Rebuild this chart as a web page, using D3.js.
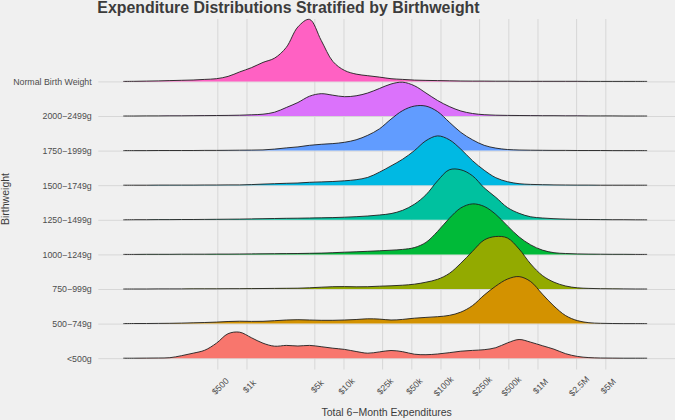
<!DOCTYPE html>
<html>
<head>
<meta charset="utf-8">
<script src="https://cdn.jsdelivr.net/npm/d3@7"></script>
<style>
  html, body { margin: 0; padding: 0; background: #f0f0f0; }
  svg { display: block; }
</style>
</head>
<body>
<svg id="chart" width="675" height="420"></svg>
<script>
// ---------------- DATA ----------------
// Birthweight groups, top row to bottom row
const categories = [
  "Normal Birth Weight", "2000\u22122499g", "1750\u22121999g", "1500\u22121749g",
  "1250\u22121499g", "1000\u22121249g", "750\u2212999g", "500\u2212749g", "<500g"
];
const fillColors = ["#FF61C3", "#DB72FB", "#619CFF", "#00B9E3", "#00C19F", "#00BA38", "#93AA00", "#D39200", "#F8766D"];

// Evaluation grid: log10 of total 6-month expenditure ($)
const logExpenditure = [1.73, 1.85, 1.97, 2.09, 2.21, 2.33, 2.45, 2.57, 2.69, 2.81,
  2.93, 3.05, 3.17, 3.29, 3.41, 3.53, 3.65, 3.77, 3.89, 4.01,
  4.13, 4.25, 4.37, 4.49, 4.61, 4.73, 4.85, 4.97, 5.09, 5.21,
  5.33, 5.45, 5.57, 5.69, 5.81, 5.93, 6.05, 6.17, 6.29, 6.41,
  6.53, 6.65, 6.77, 6.89, 7.01, 7.13];

// Ridge (scaled density) heights; 34.6 = one row
const densNormal = [0, 0.1, 0.3, 0.5, 0.8, 1.1, 1.4, 2, 2.7, 5,
  9.5, 13.7, 19, 23.3, 34, 54.5, 62, 41, 20, 11,
  7.3, 5.7, 4.3, 2.7, 2, 1.3, 1, 0.8, 0.6, 0.4,
  0.3, 0.3, 0.2, 0.2, 0.1, 0.1, 0.1, 0.1, 0.1, 0.1,
  0, 0, 0, 0, 0, 0];
const dens2000 = [0, 0, 0.1, 0.1, 0.2, 0.2, 0.3, 0.4, 0.5, 0.6,
  0.8, 1.2, 1.8, 3.8, 8.5, 13.5, 19.8, 22.3, 20.8, 19.3,
  20.2, 23, 27.5, 32, 33.8, 30.3, 23, 15.5, 9.5, 5,
  2.5, 1.3, 0.8, 0.6, 0.5, 0.4, 0.3, 0.3, 0.2, 0.2,
  0.1, 0.1, 0.1, 0, 0, 0];
const dens1750 = [0, 0, 0, 0.1, 0.1, 0.1, 0.1, 0.2, 0.2, 0.3,
  0.4, 0.5, 0.7, 1.5, 2.7, 3.7, 5.3, 6.3, 7, 8.3,
  10.8, 15.3, 21.7, 31.5, 40, 44.5, 44.5, 39, 28.5, 18.2,
  10.8, 5.3, 2.5, 1.1, 0.6, 0.4, 0.3, 0.2, 0.2, 0.1,
  0.1, 0.1, 0, 0, 0, 0];
const dens1500 = [0, 0, 0, 0.1, 0.1, 0.1, 0.1, 0.2, 0.2, 0.3,
  0.3, 0.6, 1.1, 1.5, 1.9, 2.2, 2.9, 3.3, 3.7, 4.4,
  5.5, 7.8, 13, 19.3, 26, 34.5, 44.5, 49.3, 45.5, 36,
  24.5, 15, 7.5, 3.5, 1.5, 0.8, 0.5, 0.3, 0.2, 0.1,
  0.1, 0, 0, 0, 0, 0];
const dens1250 = [0, 0.1, 0.1, 0.2, 0.2, 0.3, 0.3, 0.4, 0.5, 0.6,
  0.7, 0.9, 1.1, 1.3, 1.5, 1.6, 1.8, 2, 2.2, 2.6,
  3.1, 3.8, 4.8, 6.2, 9.5, 15.5, 25, 39, 50, 50,
  44, 32, 22.5, 12.3, 6.5, 3, 1.8, 1.1, 0.7, 0.4,
  0.3, 0.2, 0.1, 0.1, 0, 0];
const dens1000 = [0, 0, 0.1, 0.1, 0.1, 0.2, 0.2, 0.2, 0.3, 0.3,
  0.4, 0.5, 0.6, 0.7, 0.8, 0.9, 1.1, 1.3, 1.7, 2.2,
  2.6, 3.1, 3.6, 4.2, 5, 6.8, 12, 23, 36, 46.5,
  50.5, 48, 40, 28.5, 17.5, 9.5, 4.3, 1.7, 0.9, 0.5,
  0.3, 0.2, 0.1, 0.1, 0, 0];
const dens750 = [0, 0, 0, 0.1, 0.1, 0.1, 0.2, 0.2, 0.2, 0.3,
  0.3, 0.4, 0.5, 0.6, 0.7, 0.8, 1.2, 1.8, 2.3, 2.4,
  2.2, 2.3, 2.8, 3.2, 3.8, 4.8, 6.8, 9.7, 15.5, 25.8,
  37.7, 49, 52.5, 51, 40, 25, 13.5, 6.8, 3, 1.2,
  0.6, 0.3, 0.2, 0.1, 0, 0];
const dens500 = [0, 0.1, 0.1, 0.2, 0.3, 0.5, 0.8, 1.1, 1.5, 2.1,
  2.4, 2.2, 2.3, 2.9, 3.6, 3.9, 3.6, 3.3, 3.3, 3.6,
  4.1, 4.8, 4.5, 3.6, 4.2, 5.4, 6.2, 6.9, 8.2, 11.5,
  18, 28.5, 37.5, 44.5, 47, 42, 29.5, 17.5, 8, 3,
  0.9, 0.3, 0.1, 0, 0, 0];
const densUnder500 = [0, 0, 0.1, 0.2, 0.5, 2.5, 5, 8, 15, 24.5,
  26, 20.5, 15, 12, 12.8, 12.2, 12.8, 11.5, 10, 8.8,
  6.7, 5, 6.3, 7.7, 6.5, 4, 3.5, 4.2, 5.5, 7,
  7.8, 8.5, 10.5, 15.3, 18.7, 16, 12.5, 9, 4.5, 1.8,
  0.6, 0.2, 0.1, 0, 0, 0];

const seriesDensities = [densNormal, dens2000, dens1750, dens1500, dens1250, dens1000, dens750, dens500, densUnder500];

const tickValues = [500, 1000, 5000, 10000, 25000, 50000, 100000, 250000, 500000, 1000000, 2500000, 5000000];
const tickLabels = ["$500", "$1k", "$5k", "$10k", "$25k", "$50k", "$100k", "$250k", "$500k", "$1M", "$2.5M", "$5M"];

const titleText = "Expenditure Distributions Stratified by Birthweight";
const xTitle = "Total 6\u2212Month Expenditures";
const yTitle = "Birthweight";

// ---------------- DRAW ----------------
const W = 675, H = 420;
const FONT = "'Liberation Sans', Arial, Helvetica, sans-serif";
const svg = d3.select("#chart");
svg.append("rect").attr("width", W).attr("height", H).attr("fill", "#f0f0f0");

const panel = { left: 98.3, right: 675, top: 19, bottom: 369.5 };

const x = d3.scaleLog().domain([100, 1e7]).range([149.5, 634.5]);
const y = d3.scalePoint().domain(categories).range([81.4, 358.2]);
const step = y.step();
const h = d3.scaleLinear().domain([0, 34.6]).range([0, step]);

// vertical grid + x tick labels
const labelOf = new Map(tickValues.map((v, i) => [v, tickLabels[i]]));
const xAxis = d3.axisBottom(x)
  .tickValues(tickValues)
  .tickFormat(d => labelOf.get(d))
  .tickSize(-(panel.bottom - panel.top))
  .tickPadding(0);
const gx = svg.append("g")
  .attr("transform", `translate(0,${panel.bottom})`)
  .call(xAxis);
gx.attr("font-family", FONT).attr("font-size", 8.8);
gx.select(".domain").remove();
gx.selectAll(".tick line").attr("stroke", "#d7d7d7").attr("stroke-width", 1);
gx.selectAll(".tick text")
  .attr("y", null).attr("dy", null)
  .attr("fill", "#4d4d4d")
  .attr("text-anchor", "middle")
  .attr("dominant-baseline", "central")
  .attr("transform", "translate(2.5,16.8) rotate(-45)");

// horizontal grid + y labels
const yAxis = d3.axisLeft(y)
  .tickSize(-(panel.right - panel.left))
  .tickPadding(6.6);
const gy = svg.append("g")
  .attr("transform", `translate(${panel.left},0)`)
  .call(yAxis);
gy.attr("font-family", FONT).attr("font-size", 8.8);
gy.select(".domain").remove();
gy.selectAll(".tick line").attr("stroke", "#d7d7d7").attr("stroke-width", 1);
gy.selectAll(".tick text").attr("fill", "#4d4d4d");

// ridges (top row first so lower rows overlap)
const ridgeG = svg.append("g");
categories.forEach((cat, k) => {
  const base = y(cat);
  const pts = logExpenditure.map((L, i) => ({ v: Math.pow(10, L), d: seriesDensities[k][i] }));
  const area = d3.area()
    .x(p => x(p.v))
    .y0(base)
    .y1(p => base - h(p.d))
    .curve(d3.curveCatmullRom.alpha(0.5));
  const line = d3.line()
    .x(p => x(p.v))
    .y(p => base - h(p.d))
    .curve(d3.curveCatmullRom.alpha(0.5));
  ridgeG.append("path").attr("d", area(pts)).attr("fill", fillColors[k]).attr("stroke", "none");
  ridgeG.append("path").attr("d", line(pts)).attr("fill", "none")
    .attr("stroke", "#1e1e1e").attr("stroke-width", 0.9).attr("stroke-linejoin", "round");
});

// titles
svg.append("text")
  .attr("x", 97.3).attr("y", 12.8)
  .attr("font-family", FONT).attr("font-size", 15.9).attr("font-weight", "bold")
  .attr("fill", "#3c3c3c")
  .text(titleText);

svg.append("text")
  .attr("x", (panel.left + panel.right) / 2).attr("y", 416.4)
  .attr("text-anchor", "middle")
  .attr("font-family", FONT).attr("font-size", 10.5)
  .attr("fill", "#3c3c3c")
  .text(xTitle);

svg.append("text")
  .attr("transform", "translate(8.6,199) rotate(-90)")
  .attr("text-anchor", "middle")
  .attr("font-family", FONT).attr("font-size", 10.5)
  .attr("fill", "#3c3c3c")
  .text(yTitle);
</script>
</body>
</html>
